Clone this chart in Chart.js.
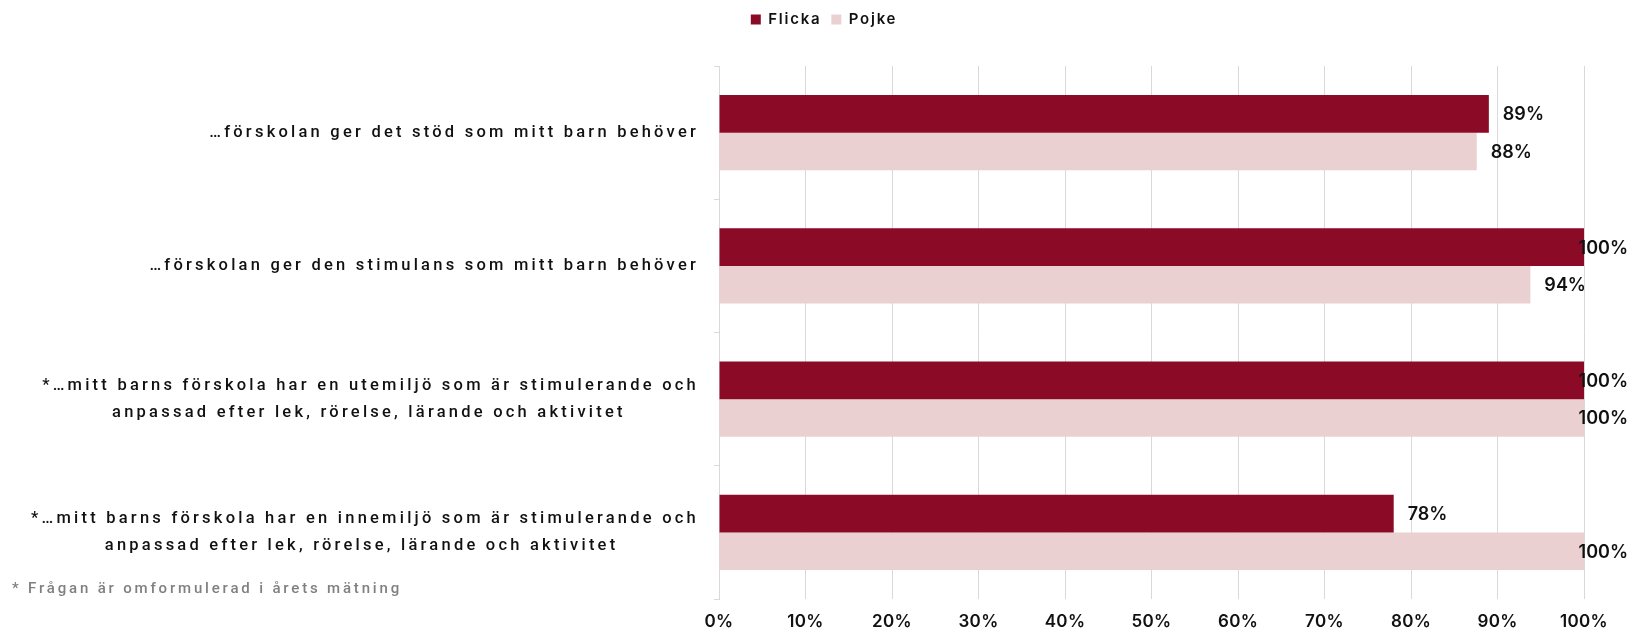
<!DOCTYPE html>
<html>
<head>
<meta charset="utf-8">
<script src="https://cdn.jsdelivr.net/npm/chart.js@4.4.1/dist/chart.umd.min.js"></script>
<style>
  html, body { margin: 0; padding: 0; background: #ffffff; }
  #c { display: block; }
</style>
</head>
<body>
<canvas id="c" width="1630" height="630"></canvas>
<script>
// ---- data ----
const categories = [
  ['…förskolan ger det stöd som mitt barn behöver'],
  ['…förskolan ger den stimulans som mitt barn behöver'],
  ['*…mitt barns förskola har en utemiljö som är stimulerande och', 'anpassad efter lek, rörelse, lärande och aktivitet'],
  ['*…mitt barns förskola har en innemiljö som är stimulerande och', 'anpassad efter lek, rörelse, lärande och aktivitet']
];
const seriesNames = ['Flicka', 'Pojke'];
const flicka = [89, 100, 100, 78];
const pojke = [87.6, 93.8, 100, 100];
const xTickStep = 10;
const xMax = 100;
const footnote = '* Frågan är omformulerad i årets mätning';

// ---- styles ----
const COL_F = '#8B0A26';
const COL_P = '#EBD0D1';
const GRID = '#d9d9d9';
const Y_SIZE = 16.5;
const F_Y = "500 " + Y_SIZE + "px Roboto";   // category labels
const F_NOTE = "500 15px Roboto";            // footnote
const F_DATA = "600 18px Inter";             // data labels
const F_TICK = "600 17px Inter";             // x tick labels
const F_LEG = "600 15px Inter";              // legend

// text style table: tracking keyed by normalized font string
const STYLE = {};
const probe = document.createElement('canvas').getContext('2d');
function calibrate(font, sample, targetW) {
  probe.font = font; probe.letterSpacing = '0px';
  const w = probe.measureText(sample).width;
  const n = [...sample].length;
  STYLE[probe.font] = Math.max(0, (targetW - w) / n) + 'px';
}
calibrate(F_Y, categories[3][0], 668);
calibrate(F_NOTE, footnote, 390);
calibrate(F_DATA, '100%', 49);
calibrate(F_TICK, '100%', 48);
calibrate(F_LEG, 'Flicka', 53);

function patch(c) {
  const of = c.fillText, om = c.measureText;
  c.fillText = function () {
    this.letterSpacing = STYLE[this.font] || '0px';
    return of.apply(this, arguments);
  };
  c.measureText = function () {
    this.letterSpacing = STYLE[this.font] || '0px';
    return om.apply(this, arguments);
  };
}

const canvas = document.getElementById('c');
const ctx = canvas.getContext('2d');
patch(ctx);

// center the second line of multi-line labels under the first (labels are right-aligned)
const meas = document.createElement('canvas').getContext('2d');
patch(meas);
function centerLines(lines) {
  if (lines.length < 2) return lines;
  meas.font = F_Y;
  const w0 = meas.measureText(lines[0]).width;
  const sp = meas.measureText('\u00A0').width;
  return lines.map((l, i) => {
    if (i === 0) return l;
    const w = meas.measureText(l).width;
    const n = Math.max(0, Math.round((w0 - w) / 2 / sp));
    return l + '\u00A0'.repeat(n);
  });
}
const yLabels = categories.map(centerLines);

const dataLabels = {
  id: 'dataLabels',
  afterDatasetsDraw(chart) {
    const c = chart.ctx;
    c.save();
    c.font = F_DATA;
    c.fillStyle = '#111111';
    c.textBaseline = 'middle';
    c.textAlign = 'left';
    chart.data.datasets.forEach((ds, di) => {
      const meta = chart.getDatasetMeta(di);
      meta.data.forEach((bar, i) => {
        const txt = Math.round(ds.data[i]) + '%';
        const w = c.measureText(txt).width;
        let x = bar.x + 14;
        if (x + w > chart.width - 2) x = chart.width - 2 - w;
        c.fillText(txt, x, bar.y + 1);
      });
    });
    c.restore();
  }
};

const footnotePlugin = {
  id: 'footnote',
  afterDraw(chart) {
    const c = chart.ctx;
    c.save();
    c.font = F_NOTE;
    c.fillStyle = '#808080';
    c.textBaseline = 'middle';
    c.textAlign = 'left';
    c.fillText(footnote, 12, 589);
    c.restore();
  }
};

new Chart(ctx, {
  type: 'bar',
  data: {
    labels: yLabels,
    datasets: [
      { label: seriesNames[0], data: flicka, backgroundColor: COL_F, borderWidth: 0 },
      { label: seriesNames[1], data: pojke, backgroundColor: COL_P, borderWidth: 0 }
    ]
  },
  options: {
    indexAxis: 'y',
    responsive: false,
    animation: false,
    devicePixelRatio: 1,
    datasets: { bar: { categoryPercentage: 0.563, barPercentage: 1.0 } },
    layout: { padding: { left: 18, right: 0, top: 2, bottom: 0 } },
    plugins: {
      legend: {
        position: 'top',
        align: 'center',
        labels: {
          boxWidth: 10, boxHeight: 10, padding: 10,
          color: '#111111',
          font: { family: 'Inter', size: 15, weight: '600' }
        }
      },
      subtitle: {
        display: true, text: '', position: 'top', weight: 500,
        font: { size: 1, lineHeight: 1 },
        padding: { top: 0, bottom: 28 }
      },
      tooltip: { enabled: false }
    },
    scales: {
      x: {
        type: 'linear',
        min: 0, max: xMax,
        position: 'bottom',
        ticks: {
          stepSize: xTickStep,
          callback: v => v + '%',
          color: '#111111',
          padding: 13,
          font: { family: 'Inter', size: 17, weight: '600' }
        },
        grid: { color: GRID, lineWidth: 1, drawTicks: false },
        border: { display: false },
        afterFit(s) { s.height = 31; }
      },
      y: {
        type: 'category',
        position: 'left',
        ticks: {
          color: '#111111',
          padding: 15,
          autoSkip: false,
          font: { family: 'Roboto', size: Y_SIZE, weight: '500', lineHeight: 1.64 }
        },
        grid: { display: true, drawOnChartArea: false, drawTicks: true, tickLength: 5, color: GRID, offset: true },
        border: { display: true, color: GRID, width: 1 },
        afterFit(s) { s.width = 701; }
      },
      yRight: {
        type: 'category',
        position: 'right',
        grid: { display: false },
        border: { display: false },
        ticks: { display: false },
        afterFit(s) { s.width = 46; }
      }
    }
  },
  plugins: [dataLabels, footnotePlugin]
});
</script>
</body>
</html>
